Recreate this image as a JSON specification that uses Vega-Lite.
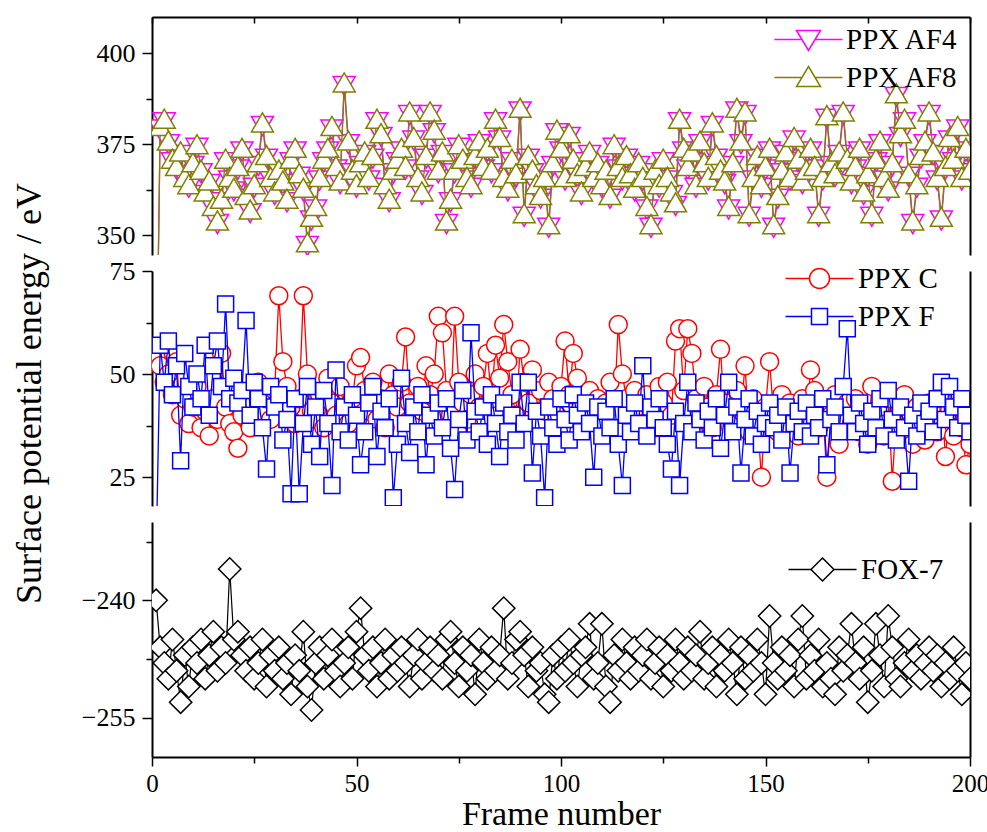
{
"$schema": "https://vega.github.io/schema/vega-lite/v6.json",
"padding": {"left": 11, "top": 16, "right": 0, "bottom": 0},
"background": "white",
"spacing": 16,
"bounds": "flush",
"config": {
  "font": "Liberation Serif",
  "view": {"stroke": null},
  "axis": {"domainColor": "black", "domainWidth": 2, "tickColor": "black", "tickWidth": 1.5, "labelColor": "black", "titleColor": "black", "grid": false, "labelFont": "Liberation Serif", "titleFont": "Liberation Serif", "titleFontWeight": "normal", "labelFlush": false},
  "legend": {"labelFont": "Liberation Serif", "labelColor": "black", "labelFontSize": 29, "labelLimit": 0, "padding": 0, "symbolSize": 400, "symbolStrokeWidth": 1.5, "symbolOpacity": 1}
},
"resolve": {"scale": {"y": "independent", "stroke": "independent"}, "legend": {"stroke": "independent"}},
"datasets": {"d": [
{"f":1,"a4":300,"a8":300,"c":54,"p":5,"x":-240},
{"f":2,"a4":379,"a8":380,"c":52,"p":57,"x":-246},
{"f":3,"a4":381,"a8":382,"c":48,"p":48,"x":-248},
{"f":4,"a4":375,"a8":376,"c":50,"p":58,"x":-250},
{"f":5,"a4":370,"a8":371,"c":45,"p":45,"x":-245},
{"f":6,"a4":368,"a8":369,"c":53,"p":52,"x":-249},
{"f":7,"a4":372,"a8":373,"c":40,"p":29,"x":-253},
{"f":8,"a4":365,"a8":366,"c":44,"p":55,"x":-247},
{"f":9,"a4":363,"a8":364,"c":38,"p":47,"x":-251},
{"f":10,"a4":369,"a8":370,"c":42,"p":42,"x":-246},
{"f":11,"a4":374,"a8":375,"c":47,"p":50,"x":-248},
{"f":12,"a4":367,"a8":368,"c":37,"p":44,"x":-245},
{"f":13,"a4":361,"a8":362,"c":41,"p":57,"x":-250},
{"f":14,"a4":364,"a8":365,"c":35,"p":40,"x":-247},
{"f":15,"a4":357,"a8":358,"c":44,"p":52,"x":-244},
{"f":16,"a4":353,"a8":354,"c":39,"p":58,"x":-249},
{"f":17,"a4":359,"a8":360,"c":55,"p":47,"x":-246},
{"f":18,"a4":370,"a8":371,"c":42,"p":67,"x":-248},
{"f":19,"a4":365,"a8":366,"c":38,"p":44,"x":-236},
{"f":20,"a4":362,"a8":363,"c":36,"p":49,"x":-245},
{"f":21,"a4":368,"a8":369,"c":32,"p":43,"x":-244},
{"f":22,"a4":373,"a8":374,"c":40,"p":46,"x":-247},
{"f":23,"a4":360,"a8":361,"c":45,"p":63,"x":-249},
{"f":24,"a4":356,"a8":357,"c":37,"p":40,"x":-246},
{"f":25,"a4":363,"a8":364,"c":43,"p":48,"x":-250},
{"f":26,"a4":369,"a8":370,"c":48,"p":44,"x":-248},
{"f":27,"a4":380,"a8":381,"c":41,"p":37,"x":-245},
{"f":28,"a4":371,"a8":372,"c":44,"p":27,"x":-251},
{"f":29,"a4":365,"a8":366,"c":39,"p":47,"x":-247},
{"f":30,"a4":361,"a8":362,"c":46,"p":42,"x":-249},
{"f":31,"a4":367,"a8":368,"c":69,"p":45,"x":-246},
{"f":32,"a4":364,"a8":365,"c":53,"p":34,"x":-250},
{"f":33,"a4":359,"a8":360,"c":47,"p":39,"x":-248},
{"f":34,"a4":370,"a8":371,"c":42,"p":21,"x":-252},
{"f":35,"a4":373,"a8":374,"c":38,"p":44,"x":-247},
{"f":36,"a4":366,"a8":367,"c":44,"p":21,"x":-249},
{"f":37,"a4":362,"a8":363,"c":69,"p":38,"x":-244},
{"f":38,"a4":347,"a8":348,"c":50,"p":47,"x":-251},
{"f":39,"a4":354,"a8":355,"c":41,"p":33,"x":-254},
{"f":40,"a4":357,"a8":358,"c":39,"p":42,"x":-248},
{"f":41,"a4":365,"a8":366,"c":45,"p":30,"x":-246},
{"f":42,"a4":370,"a8":371,"c":37,"p":46,"x":-250},
{"f":43,"a4":373,"a8":374,"c":49,"p":38,"x":-247},
{"f":44,"a4":379,"a8":380,"c":43,"p":23,"x":-245},
{"f":45,"a4":368,"a8":369,"c":40,"p":51,"x":-249},
{"f":46,"a4":364,"a8":365,"c":47,"p":36,"x":-251},
{"f":47,"a4":391,"a8":392,"c":42,"p":42,"x":-248},
{"f":48,"a4":375,"a8":376,"c":38,"p":34,"x":-246},
{"f":49,"a4":367,"a8":368,"c":44,"p":45,"x":-250},
{"f":50,"a4":363,"a8":364,"c":52,"p":40,"x":-244},
{"f":51,"a4":369,"a8":370,"c":54,"p":28,"x":-241},
{"f":52,"a4":372,"a8":373,"c":46,"p":36,"x":-247},
{"f":53,"a4":365,"a8":366,"c":41,"p":43,"x":-249},
{"f":54,"a4":371,"a8":372,"c":48,"p":47,"x":-246},
{"f":55,"a4":381,"a8":382,"c":39,"p":30,"x":-251},
{"f":56,"a4":377,"a8":378,"c":44,"p":41,"x":-248},
{"f":57,"a4":363,"a8":364,"c":37,"p":37,"x":-245},
{"f":58,"a4":359,"a8":360,"c":50,"p":44,"x":-250},
{"f":59,"a4":367,"a8":368,"c":45,"p":20,"x":-247},
{"f":60,"a4":370,"a8":371,"c":42,"p":33,"x":-249},
{"f":61,"a4":373,"a8":374,"c":48,"p":49,"x":-246},
{"f":62,"a4":368,"a8":369,"c":59,"p":38,"x":-248},
{"f":63,"a4":383,"a8":384,"c":43,"p":31,"x":-251},
{"f":64,"a4":376,"a8":377,"c":39,"p":42,"x":-247},
{"f":65,"a4":365,"a8":366,"c":47,"p":36,"x":-245},
{"f":66,"a4":361,"a8":362,"c":41,"p":45,"x":-250},
{"f":67,"a4":371,"a8":372,"c":52,"p":28,"x":-248},
{"f":68,"a4":383,"a8":384,"c":45,"p":40,"x":-246},
{"f":69,"a4":378,"a8":379,"c":50,"p":35,"x":-249},
{"f":70,"a4":367,"a8":368,"c":64,"p":43,"x":-247},
{"f":71,"a4":372,"a8":373,"c":60,"p":37,"x":-250},
{"f":72,"a4":353,"a8":354,"c":46,"p":44,"x":-245},
{"f":73,"a4":359,"a8":360,"c":40,"p":32,"x":-244},
{"f":74,"a4":367,"a8":368,"c":64,"p":22,"x":-248},
{"f":75,"a4":374,"a8":375,"c":48,"p":39,"x":-251},
{"f":76,"a4":370,"a8":371,"c":43,"p":46,"x":-246},
{"f":77,"a4":365,"a8":366,"c":39,"p":34,"x":-249},
{"f":78,"a4":363,"a8":364,"c":45,"p":60,"x":-247},
{"f":79,"a4":371,"a8":372,"c":50,"p":41,"x":-252},
{"f":80,"a4":375,"a8":376,"c":42,"p":36,"x":-245},
{"f":81,"a4":368,"a8":369,"c":47,"p":42,"x":-248},
{"f":82,"a4":373,"a8":374,"c":55,"p":33,"x":-250},
{"f":83,"a4":367,"a8":368,"c":44,"p":45,"x":-246},
{"f":84,"a4":381,"a8":382,"c":57,"p":38,"x":-249},
{"f":85,"a4":376,"a8":377,"c":49,"p":30,"x":-247},
{"f":86,"a4":365,"a8":366,"c":62,"p":43,"x":-241},
{"f":87,"a4":362,"a8":363,"c":53,"p":36,"x":-250},
{"f":88,"a4":370,"a8":371,"c":45,"p":40,"x":-248},
{"f":89,"a4":366,"a8":367,"c":40,"p":34,"x":-245},
{"f":90,"a4":384,"a8":385,"c":56,"p":48,"x":-244},
{"f":91,"a4":355,"a8":356,"c":48,"p":38,"x":-247},
{"f":92,"a4":371,"a8":372,"c":43,"p":48,"x":-251},
{"f":93,"a4":367,"a8":368,"c":51,"p":26,"x":-246},
{"f":94,"a4":363,"a8":364,"c":38,"p":41,"x":-249},
{"f":95,"a4":360,"a8":361,"c":46,"p":35,"x":-248},
{"f":96,"a4":365,"a8":366,"c":41,"p":20,"x":-252},
{"f":97,"a4":352,"a8":353,"c":48,"p":42,"x":-253},
{"f":98,"a4":369,"a8":370,"c":44,"p":37,"x":-247},
{"f":99,"a4":378,"a8":379,"c":40,"p":33,"x":-250},
{"f":100,"a4":373,"a8":374,"c":47,"p":44,"x":-246},
{"f":101,"a4":365,"a8":366,"c":58,"p":39,"x":-249},
{"f":102,"a4":377,"a8":378,"c":45,"p":34,"x":-245},
{"f":103,"a4":370,"a8":371,"c":55,"p":45,"x":-248},
{"f":104,"a4":366,"a8":367,"c":49,"p":40,"x":-251},
{"f":105,"a4":361,"a8":362,"c":42,"p":36,"x":-247},
{"f":106,"a4":368,"a8":369,"c":38,"p":43,"x":-246},
{"f":107,"a4":372,"a8":373,"c":46,"p":38,"x":-243},
{"f":108,"a4":365,"a8":366,"c":40,"p":25,"x":-250},
{"f":109,"a4":369,"a8":370,"c":44,"p":42,"x":-248},
{"f":110,"a4":363,"a8":364,"c":37,"p":35,"x":-243},
{"f":111,"a4":367,"a8":368,"c":43,"p":41,"x":-251},
{"f":112,"a4":360,"a8":361,"c":48,"p":37,"x":-253},
{"f":113,"a4":374,"a8":375,"c":41,"p":44,"x":-247},
{"f":114,"a4":368,"a8":369,"c":62,"p":33,"x":-249},
{"f":115,"a4":365,"a8":366,"c":50,"p":23,"x":-245},
{"f":116,"a4":371,"a8":372,"c":44,"p":40,"x":-248},
{"f":117,"a4":366,"a8":367,"c":39,"p":36,"x":-250},
{"f":118,"a4":362,"a8":363,"c":46,"p":43,"x":-246},
{"f":119,"a4":369,"a8":370,"c":42,"p":38,"x":-249},
{"f":120,"a4":365,"a8":366,"c":38,"p":52,"x":-247},
{"f":121,"a4":357,"a8":358,"c":45,"p":35,"x":-245},
{"f":122,"a4":352,"a8":353,"c":41,"p":42,"x":-250},
{"f":123,"a4":367,"a8":368,"c":37,"p":39,"x":-248},
{"f":124,"a4":363,"a8":364,"c":47,"p":44,"x":-246},
{"f":125,"a4":370,"a8":371,"c":43,"p":37,"x":-251},
{"f":126,"a4":365,"a8":366,"c":48,"p":33,"x":-247},
{"f":127,"a4":361,"a8":362,"c":40,"p":27,"x":-249},
{"f":128,"a4":358,"a8":359,"c":58,"p":41,"x":-245},
{"f":129,"a4":381,"a8":382,"c":61,"p":23,"x":-248},
{"f":130,"a4":373,"a8":374,"c":46,"p":38,"x":-250},
{"f":131,"a4":368,"a8":369,"c":61,"p":48,"x":-246},
{"f":132,"a4":372,"a8":373,"c":55,"p":36,"x":-249},
{"f":133,"a4":363,"a8":364,"c":44,"p":43,"x":-247},
{"f":134,"a4":375,"a8":376,"c":39,"p":39,"x":-244},
{"f":135,"a4":369,"a8":370,"c":47,"p":34,"x":-250},
{"f":136,"a4":365,"a8":366,"c":42,"p":41,"x":-248},
{"f":137,"a4":380,"a8":381,"c":37,"p":37,"x":-246},
{"f":138,"a4":371,"a8":372,"c":45,"p":44,"x":-251},
{"f":139,"a4":367,"a8":368,"c":56,"p":32,"x":-247},
{"f":140,"a4":364,"a8":365,"c":40,"p":40,"x":-249},
{"f":141,"a4":357,"a8":358,"c":43,"p":48,"x":-245},
{"f":142,"a4":369,"a8":370,"c":38,"p":36,"x":-248},
{"f":143,"a4":384,"a8":385,"c":46,"p":42,"x":-252},
{"f":144,"a4":375,"a8":376,"c":41,"p":26,"x":-246},
{"f":145,"a4":383,"a8":384,"c":52,"p":39,"x":-250},
{"f":146,"a4":355,"a8":356,"c":36,"p":44,"x":-247},
{"f":147,"a4":365,"a8":366,"c":44,"p":35,"x":-249},
{"f":148,"a4":371,"a8":372,"c":39,"p":41,"x":-245},
{"f":149,"a4":363,"a8":364,"c":25,"p":33,"x":-248},
{"f":150,"a4":368,"a8":369,"c":42,"p":38,"x":-252},
{"f":151,"a4":373,"a8":374,"c":53,"p":43,"x":-242},
{"f":152,"a4":352,"a8":353,"c":40,"p":37,"x":-248},
{"f":153,"a4":360,"a8":361,"c":36,"p":40,"x":-250},
{"f":154,"a4":367,"a8":368,"c":45,"p":34,"x":-246},
{"f":155,"a4":372,"a8":373,"c":38,"p":42,"x":-249},
{"f":156,"a4":365,"a8":366,"c":43,"p":26,"x":-247},
{"f":157,"a4":376,"a8":377,"c":41,"p":38,"x":-251},
{"f":158,"a4":370,"a8":371,"c":35,"p":41,"x":-245},
{"f":159,"a4":364,"a8":365,"c":44,"p":36,"x":-242},
{"f":160,"a4":367,"a8":368,"c":39,"p":43,"x":-250},
{"f":161,"a4":373,"a8":374,"c":51,"p":35,"x":-247},
{"f":162,"a4":368,"a8":369,"c":46,"p":40,"x":-249},
{"f":163,"a4":355,"a8":356,"c":37,"p":37,"x":-245},
{"f":164,"a4":365,"a8":366,"c":42,"p":44,"x":-251},
{"f":165,"a4":382,"a8":383,"c":25,"p":28,"x":-248},
{"f":166,"a4":369,"a8":370,"c":40,"p":39,"x":-250},
{"f":167,"a4":366,"a8":367,"c":45,"p":42,"x":-252},
{"f":168,"a4":372,"a8":373,"c":33,"p":36,"x":-246},
{"f":169,"a4":383,"a8":384,"c":39,"p":47,"x":-249},
{"f":170,"a4":370,"a8":371,"c":43,"p":61,"x":-247},
{"f":171,"a4":364,"a8":365,"c":38,"p":40,"x":-243},
{"f":172,"a4":368,"a8":369,"c":44,"p":36,"x":-248},
{"f":173,"a4":373,"a8":374,"c":36,"p":43,"x":-250},
{"f":174,"a4":361,"a8":362,"c":41,"p":38,"x":-246},
{"f":175,"a4":366,"a8":367,"c":33,"p":33,"x":-253},
{"f":176,"a4":355,"a8":356,"c":47,"p":41,"x":-249},
{"f":177,"a4":370,"a8":371,"c":39,"p":37,"x":-243},
{"f":178,"a4":375,"a8":376,"c":42,"p":44,"x":-247},
{"f":179,"a4":365,"a8":366,"c":35,"p":35,"x":-251},
{"f":180,"a4":362,"a8":363,"c":44,"p":46,"x":-242},
{"f":181,"a4":369,"a8":370,"c":24,"p":39,"x":-246},
{"f":182,"a4":388,"a8":389,"c":40,"p":34,"x":-250},
{"f":183,"a4":377,"a8":378,"c":37,"p":42,"x":-251},
{"f":184,"a4":381,"a8":382,"c":45,"p":37,"x":-248},
{"f":185,"a4":366,"a8":367,"c":41,"p":24,"x":-245},
{"f":186,"a4":353,"a8":354,"c":33,"p":40,"x":-249},
{"f":187,"a4":363,"a8":364,"c":42,"p":35,"x":-247},
{"f":188,"a4":371,"a8":372,"c":38,"p":43,"x":-250},
{"f":189,"a4":375,"a8":376,"c":34,"p":38,"x":-248},
{"f":190,"a4":383,"a8":384,"c":43,"p":41,"x":-246},
{"f":191,"a4":372,"a8":373,"c":39,"p":36,"x":-249},
{"f":192,"a4":365,"a8":366,"c":36,"p":44,"x":-247},
{"f":193,"a4":354,"a8":355,"c":44,"p":48,"x":-251},
{"f":194,"a4":368,"a8":369,"c":30,"p":39,"x":-248},
{"f":195,"a4":376,"a8":377,"c":41,"p":47,"x":-250},
{"f":196,"a4":370,"a8":371,"c":35,"p":42,"x":-246},
{"f":197,"a4":379,"a8":380,"c":42,"p":37,"x":-249},
{"f":198,"a4":365,"a8":366,"c":37,"p":44,"x":-252},
{"f":199,"a4":373,"a8":374,"c":28,"p":40,"x":-248},
{"f":200,"a4":367,"a8":368,"c":33,"p":36,"x":-250}
]},
"vconcat": [
{
  "width": 818, "height": 238,
  "data": {"name": "d"},
  "transform": [{"fold": ["a4", "a8"], "as": ["s", "v"]}],
  "encoding": {
    "x": {"field": "f", "type": "quantitative", "scale": {"domain": [0, 200], "nice": false},
      "axis": {"orient": "top", "values": [0,25,50,75,100,125,150,175,200], "labels": false, "tickSize": -6, "title": null}}
  },
  "resolve": {"axis": {"y": "independent"}},
  "layer": [
    {"transform": [{"filter": "datum.s == 'a4'"}],
     "mark": {"type": "line", "color": "#ff00ff", "strokeWidth": 1.3, "clip": true},
     "encoding": {"y": {"field": "v", "type": "quantitative", "scale": {"domain": [344.5, 410], "nice": false, "zero": false},
       "axis": {"orient": "left", "values": [350, 362.5, 375, 387.5, 400], "labelExpr": "datum.value % 25 == 0 ? datum.label : ''",
         "tickSize": {"condition": {"test": "datum.value % 25 != 0", "value": 6}, "value": 10},
         "labelFontSize": 26, "labelPadding": 7, "title": null}}}},
    {"transform": [{"filter": "datum.s == 'a4'"}],
     "mark": {"type": "point", "shape": "triangle-down", "filled": true, "fill": "white", "opacity": 1, "size": 484, "strokeWidth": 1.5, "clip": true},
     "encoding": {"y": {"field": "v", "type": "quantitative", "scale": {"domain": [344.5, 410], "nice": false, "zero": false},
       "axis": {"orient": "right", "labels": false, "ticks": false, "title": null}},
       "stroke": {"field": "s", "type": "nominal", "scale": {"domain": ["a4", "a8"], "range": ["#ff00ff", "#808000"]},
         "legend": {"orient": "none", "legendX": 642, "legendY": 8, "title": null, "labelOffset": 23, "rowPadding": 8,
           "labelExpr": "datum.value == 'a4' ? 'PPX AF4' : 'PPX AF8'",
           "encoding": {"symbols": {"shape": {"value": {"expr": "datum.value == 'a4' ? 'M-3.4,0H-0.66M0.66,0H3.4M-1.2,-0.9L1.2,-0.9L0,1.1Z' : 'M-3.4,0H-0.66M0.66,0H3.4M0,-1.1L1.2,0.9L-1.2,0.9Z'"}}, "fill": {"value": "white"}, "size": {"value": 400}, "strokeWidth": {"value": 1.5}}}}}}},
    {"transform": [{"filter": "datum.s == 'a8'"}],
     "mark": {"type": "line", "color": "#808000", "strokeWidth": 1.3, "clip": true},
     "encoding": {"y": {"field": "v", "type": "quantitative", "scale": {"domain": [344.5, 410], "nice": false, "zero": false}, "axis": null}}},
    {"transform": [{"filter": "datum.s == 'a8'"}],
     "mark": {"type": "point", "shape": "triangle-up", "filled": true, "fill": "white", "opacity": 1, "size": 484, "strokeWidth": 1.5, "clip": true},
     "encoding": {"y": {"field": "v", "type": "quantitative", "scale": {"domain": [344.5, 410], "nice": false, "zero": false}, "axis": null},
       "stroke": {"field": "s", "type": "nominal", "scale": {"domain": ["a4", "a8"], "range": ["#ff00ff", "#808000"]}}}}
  ]
},
{
  "width": 818, "height": 235,
  "data": {"name": "d"},
  "transform": [{"fold": ["c", "p"], "as": ["s", "v"]}],
  "encoding": {
    "x": {"field": "f", "type": "quantitative", "scale": {"domain": [0, 200], "nice": false}, "axis": null}
  },
  "resolve": {"axis": {"y": "independent"}},
  "layer": [
    {"transform": [{"filter": "datum.s == 'c'"}],
     "mark": {"type": "line", "color": "#ff0000", "strokeWidth": 1.3, "clip": true},
     "encoding": {"y": {"field": "v", "type": "quantitative", "scale": {"domain": [18, 75], "nice": false, "zero": false},
       "axis": {"orient": "left", "values": [25, 37.5, 50, 62.5, 75], "labelExpr": "datum.value % 25 == 0 ? datum.label : ''",
         "tickSize": {"condition": {"test": "datum.value % 25 != 0", "value": 6}, "value": 10},
         "labelFontSize": 26, "labelPadding": 7,
         "title": "Surface potential energy / eV", "titleFontSize": 36, "titleAngle": -90, "titleX": -123, "titleY": 122, "titleBaseline": "middle", "titleAlign": "center"}}}},
    {"transform": [{"filter": "datum.s == 'c'"}],
     "mark": {"type": "point", "shape": "circle", "filled": true, "fill": "white", "opacity": 1, "size": 324, "strokeWidth": 1.5, "clip": true},
     "encoding": {"y": {"field": "v", "type": "quantitative", "scale": {"domain": [18, 75], "nice": false, "zero": false},
       "axis": {"orient": "right", "labels": false, "ticks": false, "title": null}},
       "stroke": {"field": "s", "type": "nominal", "scale": {"domain": ["c", "p"], "range": ["#ff0000", "#0000ff"]},
         "legend": {"orient": "none", "legendX": 653, "legendY": -7, "title": null, "labelOffset": 24, "rowPadding": 8,
           "labelExpr": "datum.value == 'c' ? 'PPX C' : 'PPX F'",
           "encoding": {"symbols": {"shape": {"value": {"expr": "datum.value == 'c' ? 'M-3.4,0H-1M1,0H3.4M-1,0A1,1,0,1,1,1,0A1,1,0,1,1,-1,0Z' : 'M-3.4,0H-0.8M0.8,0H3.4M-0.8,-0.8H0.8V0.8H-0.8Z'"}}, "fill": {"value": "white"}, "size": {"value": 400}, "strokeWidth": {"value": 1.5}}}}}}},
    {"transform": [{"filter": "datum.s == 'p'"}],
     "mark": {"type": "line", "color": "#0000ff", "strokeWidth": 1.3, "clip": true},
     "encoding": {"y": {"field": "v", "type": "quantitative", "scale": {"domain": [18, 75], "nice": false, "zero": false}, "axis": null}}},
    {"transform": [{"filter": "datum.s == 'p'"}],
     "mark": {"type": "point", "shape": "square", "filled": true, "fill": "white", "opacity": 1, "size": 256, "strokeWidth": 1.5, "clip": true},
     "encoding": {"y": {"field": "v", "type": "quantitative", "scale": {"domain": [18, 75], "nice": false, "zero": false}, "axis": null},
       "stroke": {"field": "s", "type": "nominal", "scale": {"domain": ["c", "p"], "range": ["#ff0000", "#0000ff"]}}}}
  ]
},
{
  "width": 818, "height": 235,
  "data": {"name": "d"},
  "transform": [{"fold": ["x"], "as": ["s", "v"]}],
  "encoding": {
    "x": {"field": "f", "type": "quantitative", "scale": {"domain": [0, 200], "nice": false},
      "axis": {"orient": "bottom", "values": [0,25,50,75,100,125,150,175,200], "labelExpr": "datum.value % 50 == 0 ? datum.label : ''",
        "tickSize": {"condition": {"test": "datum.value % 50 != 0", "value": 6}, "value": 9},
        "labelFontSize": 25, "labelPadding": 5, "title": "Frame number", "titleFontSize": 34, "titleY": 57, "titleBaseline": "middle"}}
  },
  "resolve": {"axis": {"y": "independent"}},
  "layer": [
    {"mark": {"type": "line", "color": "#000000", "strokeWidth": 1.2, "clip": true},
     "encoding": {"y": {"field": "v", "type": "quantitative", "scale": {"domain": [-260, -230], "nice": false, "zero": false},
       "axis": {"orient": "left", "values": [-255, -247.5, -240, -232.5], "labelExpr": "datum.value % 15 == 0 ? datum.label : ''",
         "tickSize": {"condition": {"test": "datum.value % 15 != 0", "value": 6}, "value": 10},
         "labelFontSize": 26, "labelPadding": 7, "title": null}}}},
    {"mark": {"type": "point", "shape": "diamond", "filled": true, "fill": "white", "opacity": 1, "size": 500, "strokeWidth": 1.5, "clip": true},
     "encoding": {"y": {"field": "v", "type": "quantitative", "scale": {"domain": [-260, -230], "nice": false, "zero": false},
       "axis": {"orient": "right", "labels": false, "ticks": false, "title": null}},
       "stroke": {"field": "s", "type": "nominal", "scale": {"domain": ["x"], "range": ["#000000"]},
         "legend": {"orient": "none", "legendX": 656, "legendY": 33, "title": null, "labelOffset": 24,
           "labelExpr": "'FOX-7'",
           "encoding": {"symbols": {"shape": {"value": "M-3.4,0H-1.15M1.15,0H3.4M0,-1.15L1.15,0L0,1.15L-1.15,0Z"}, "fill": {"value": "white"}, "size": {"value": 400}, "strokeWidth": {"value": 1.5}}}}}}}
  ]
}
]
}
